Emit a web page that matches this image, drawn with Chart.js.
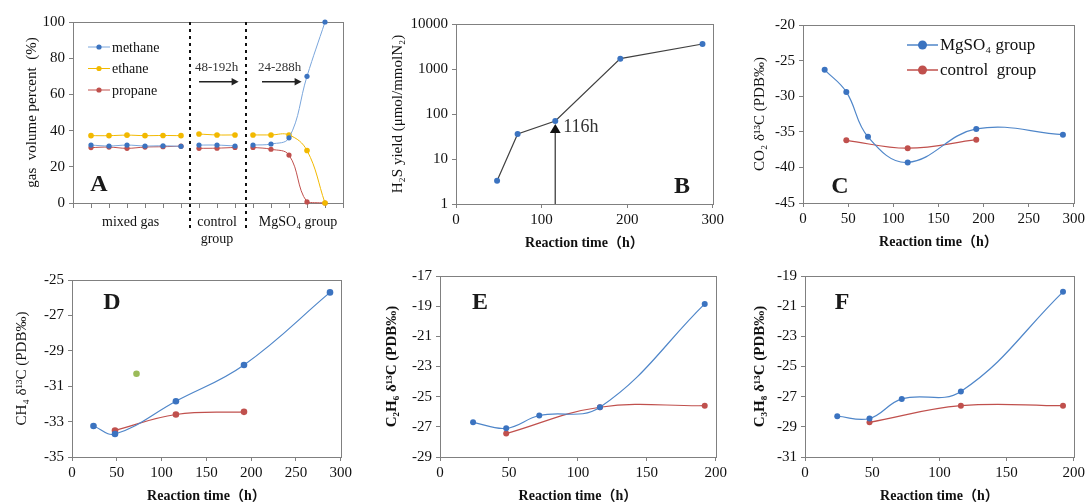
<!DOCTYPE html>
<html>
<head>
<meta charset="utf-8">
<script src="https://cdn.jsdelivr.net/npm/chart.js@4.4.1/dist/chart.umd.min.js"></script>
<style>
  html, body { margin: 0; padding: 0; background: #fff; overflow: hidden; }
  #wrap { position: relative; width: 1091px; height: 504px; }
  canvas { position: absolute; }
</style>
</head>
<body>
<div id="wrap">
  <canvas id="cA"></canvas>
  <canvas id="cB"></canvas>
  <canvas id="cC"></canvas>
  <canvas id="cD"></canvas>
  <canvas id="cE"></canvas>
  <canvas id="cF"></canvas>
</div>
<script>
// ---------- données ----------

// A : composition du gaz (%)
const aGroups = ["mixed gas", ["control", "group"], "MgSO₄ group"];
const aGroupX = [[1, 2, 3, 4, 5, 6], [7, 8, 9], [10, 11, 12, 13, 14]];
const aMethane = [[32.0, 31.5, 32.0, 31.5, 31.6, 31.3], [32.0, 32.0, 31.5], [32.0, 32.6, 36.0, 70.0, 100.0]];
const aEthane = [[37.2, 37.2, 37.5, 37.2, 37.3, 37.2], [38.1, 37.6, 37.6], [37.6, 37.6, 37.6, 29.0, 0.0]];
const aPropane = [[30.6, 30.9, 30.2, 30.9, 31.1, 31.4], [30.2, 30.3, 30.7], [30.7, 29.7, 26.5, 0.6, 0.0]];
const aYTicks = [0, 20, 40, 60, 80, 100];
const aLabelPos = [3.2, 8, 12.5];
const aDividers = [6.5, 9.6];
const aNotes = [
  { label: "48-192h", from: 7.0, to: 9.2 },
  { label: "24-288h", from: 10.5, to: 12.7 }
];

// B : rendement en H2S
const bTime = [48, 72, 116, 192, 288];
const bH2S = [3.3, 36, 70, 1700, 3600];
const bYTicks = [1, 10, 100, 1000, 10000];
const bMarkTime = 116;

// C : CO2 d13C
const cTimeMg = [24, 48, 72, 116, 192, 288];
const cMg = [-26.3, -29.4, -35.7, -39.3, -34.6, -35.4];
const cTimeCtl = [48, 116, 192];
const cCtl = [-36.2, -37.3, -36.1];

// D : CH4 d13C
const dTimeMg = [24, 48, 116, 192, 288];
const dMg = [-33.25, -33.7, -31.85, -29.8, -25.7];
const dTimeCtl = [48, 116, 192];
const dCtl = [-33.5, -32.6, -32.45];
const dTimeOdd = [72];
const dOdd = [-30.3];

// E : C2H6 d13C
const eTimeMg = [24, 48, 72, 116, 192];
const eMg = [-26.7, -27.1, -26.25, -25.7, -18.85];
const eTimeCtl = [48, 116, 192];
const eCtl = [-27.45, -25.7, -25.6];

// F : C3H8 d13C
const fTimeMg = [24, 48, 72, 116, 192];
const fMg = [-28.3, -28.45, -27.15, -26.65, -20.05];
const fTimeCtl = [48, 116, 192];
const fCtl = [-28.7, -27.6, -27.6];

// ---------- style ----------
const SERIF = '"Liberation Serif", "Times New Roman", "DejaVu Serif", "Noto Sans CJK SC", serif';
const AXIS = "#808080";
const BLUE = "#4f86c9";
const BLUE_PT = "#3b73c0";
const RED = "#c0504d";
const YELLOW = "#f2b900";
const GREEN = "#9bbb59";
const TICK_SIZE = 15;

Chart.defaults.font.family = SERIF;
Chart.defaults.color = "#111";

const pts = (xs, ys) => xs.map((x, i) => ({ x: x, y: ys[i] }));

// relie les groupes avec une coupure entre eux
function groupedPts(groupX, groupY) {
  const out = [];
  groupX.forEach((xs, g) => {
    if (g > 0) out.push({ x: xs[0] - 0.5, y: null });
    xs.forEach((x, i) => out.push({ x: x, y: groupY[g][i] }));
  });
  return out;
}

function serie(data, color, ptColor, extra) {
  return Object.assign({
    data: data,
    borderColor: color,
    backgroundColor: ptColor,
    pointBackgroundColor: ptColor,
    pointBorderWidth: 0,
    pointRadius: 3,
    borderWidth: 1.2,
    tension: 0.4,
    clip: false,
    spanGaps: false
  }, extra || {});
}

function xAxis(min, max, step, h) {
  return {
    type: "linear", min: min, max: max,
    ticks: { stepSize: step, font: { size: TICK_SIZE }, padding: 3, maxRotation: 0, autoSkip: false, color: "#111" },
    grid: { drawOnChartArea: false, tickLength: 4, color: AXIS },
    border: { color: AXIS },
    title: { display: true, text: "Reaction time（h）", font: { size: 14, weight: "bold" }, padding: 0 },
    afterFit: s => { s.height = h; }
  };
}

function yAxis(min, max, step, w, title, bold) {
  return {
    type: "linear", min: min, max: max,
    ticks: { stepSize: step, font: { size: TICK_SIZE }, padding: 4, autoSkip: false, color: "#111" },
    grid: { drawOnChartArea: false, tickLength: 4, color: AXIS },
    border: { color: AXIS },
    title: { display: true, text: title, font: { size: 15, weight: bold ? "bold" : "normal" }, padding: 0 },
    afterFit: s => { s.width = w; }
  };
}

// cadre gris autour de la zone de tracé
const framePlugin = {
  id: "frame",
  beforeDatasetsDraw(chart) {
    const a = chart.chartArea;
    const ctx = chart.ctx;
    ctx.save();
    ctx.strokeStyle = AXIS;
    ctx.lineWidth = 1;
    ctx.strokeRect(Math.round(a.left) + 0.5, Math.round(a.top) + 0.5, Math.round(a.right - a.left), Math.round(a.bottom - a.top));
    ctx.restore();
  }
};

function letterPlugin(text, dx, dy) {
  return {
    id: "letter" + text,
    afterDraw(chart) {
      const ctx = chart.ctx, a = chart.chartArea;
      ctx.save();
      ctx.font = "bold 24px " + SERIF;
      ctx.fillStyle = "#1a1a1a";
      ctx.textAlign = "center";
      ctx.textBaseline = "middle";
      ctx.fillText(text, a.left + dx, a.top + dy);
      ctx.restore();
    }
  };
}

function legendPlugin(items, opt) {
  return {
    id: "legendBox",
    afterDraw(chart) {
      const ctx = chart.ctx, a = chart.chartArea;
      ctx.save();
      ctx.font = opt.size + "px " + SERIF;
      ctx.textBaseline = "middle";
      items.forEach((it, i) => {
        const x = a.left + opt.dx, y = a.top + opt.dy + i * opt.gap;
        ctx.strokeStyle = it.color;
        ctx.lineWidth = opt.lw;
        ctx.beginPath();
        ctx.moveTo(x, y);
        ctx.lineTo(x + opt.len, y);
        ctx.stroke();
        ctx.fillStyle = it.point;
        ctx.beginPath();
        ctx.arc(x + opt.len / 2, y, opt.r, 0, Math.PI * 2);
        ctx.fill();
        ctx.fillStyle = "#111";
        ctx.fillText(it.label, x + opt.len + 2, y + 1);
      });
      ctx.restore();
    }
  };
}

function arrowHead(ctx, x, y, dir, size) {
  ctx.beginPath();
  if (dir === "right") {
    ctx.moveTo(x, y);
    ctx.lineTo(x - size, y - size * 0.55);
    ctx.lineTo(x - size, y + size * 0.55);
  } else {
    ctx.moveTo(x, y);
    ctx.lineTo(x - size * 0.6, y + size);
    ctx.lineTo(x + size * 0.6, y + size);
  }
  ctx.closePath();
  ctx.fill();
}

// annotations du panneau A : séparateurs pointillés et flèches
const aExtras = {
  id: "aExtras",
  afterDraw(chart) {
    const ctx = chart.ctx, a = chart.chartArea, x = chart.scales.x, y = chart.scales.y;
    ctx.save();
    ctx.strokeStyle = "#111";
    ctx.lineWidth = 2;
    ctx.setLineDash([3, 4]);
    aDividers.forEach(v => {
      const px = Math.round(x.getPixelForValue(v));
      ctx.beginPath();
      ctx.moveTo(px, a.top);
      ctx.lineTo(px, a.bottom + 26);
      ctx.stroke();
    });
    ctx.setLineDash([]);
    ctx.font = "13px " + SERIF;
    ctx.textBaseline = "middle";
    aNotes.forEach(n => {
      const x0 = x.getPixelForValue(n.from), x1 = x.getPixelForValue(n.to);
      const yl = y.getPixelForValue(67);
      ctx.fillStyle = "#333";
      ctx.fillText(n.label, x0 - 4, y.getPixelForValue(75));
      ctx.strokeStyle = "#222";
      ctx.lineWidth = 1.5;
      ctx.beginPath();
      ctx.moveTo(x0, yl);
      ctx.lineTo(x1 - 5, yl);
      ctx.stroke();
      ctx.fillStyle = "#222";
      arrowHead(ctx, x1, yl, "right", 7);
    });
    ctx.restore();
  }
};

// flèche du panneau B à 116 h
const bExtras = {
  id: "bExtras",
  afterDraw(chart) {
    const ctx = chart.ctx, a = chart.chartArea, x = chart.scales.x, y = chart.scales.y;
    const px = x.getPixelForValue(bMarkTime);
    const tip = y.getPixelForValue(60);
    ctx.save();
    ctx.strokeStyle = "#555";
    ctx.lineWidth = 1.5;
    ctx.beginPath();
    ctx.moveTo(px, a.bottom);
    ctx.lineTo(px, tip + 8);
    ctx.stroke();
    ctx.fillStyle = "#111";
    arrowHead(ctx, px, tip, "up", 9);
    ctx.font = "18px " + SERIF;
    ctx.fillStyle = "#333";
    ctx.textBaseline = "middle";
    ctx.fillText(bMarkTime + "h", px + 8, tip + 3);
    ctx.restore();
  }
};

function place(id, left, top, w, h) {
  const c = document.getElementById(id);
  c.width = w; c.height = h;
  c.style.left = left + "px"; c.style.top = top + "px";
  c.style.width = w + "px"; c.style.height = h + "px";
  return c;
}

const common = {
  responsive: false,
  animation: false,
  devicePixelRatio: 1,
  events: []
};

function opts(padTop, padRight, scales) {
  return Object.assign({}, common, {
    layout: { padding: { top: padTop, right: padRight, left: 0, bottom: 0 } },
    plugins: { legend: { display: false }, tooltip: { enabled: false } },
    scales: scales
  });
}

// ---------- A ----------
new Chart(place("cA", 23, 0, 330, 250), {
  type: "line",
  data: {
    datasets: [
      serie(groupedPts(aGroupX, aMethane), "#7aa6dc", BLUE_PT, { pointRadius: 2.6, borderWidth: 1 }),
      serie(groupedPts(aGroupX, aEthane), YELLOW, YELLOW, { pointRadius: 2.8, borderWidth: 1 }),
      serie(groupedPts(aGroupX, aPropane), RED, RED, { pointRadius: 2.6, borderWidth: 1 })
    ]
  },
  options: opts(22, 10, {
    x: {
      type: "linear", min: 0, max: 15, weight: 0,
      ticks: { stepSize: 1, callback: () => "", autoSkip: false },
      grid: { drawOnChartArea: false, tickLength: 5, color: AXIS },
      border: { color: AXIS },
      afterFit: s => { s.height = 6; }
    },
    xg: {
      type: "linear", position: "bottom", min: 0, max: 15, weight: 1,
      afterBuildTicks: s => { s.ticks = aLabelPos.map(v => ({ value: v })); },
      ticks: { callback: (v, i) => aGroups[i], font: { size: 14 }, padding: 5, autoSkip: false, maxRotation: 0, color: "#111" },
      grid: { display: false, drawTicks: false },
      border: { display: false },
      afterFit: s => { s.height = 41; }
    },
    y: Object.assign(yAxis(0, 100, 20, 50, "gas  volume percent  (%)", false), {
      afterBuildTicks: s => { s.ticks = aYTicks.map(v => ({ value: v })); }
    })
  }),
  plugins: [framePlugin, aExtras, letterPlugin("A", 26, 163),
    legendPlugin([
      { label: "methane", color: "#7aa6dc", point: BLUE_PT },
      { label: "ethane", color: YELLOW, point: YELLOW },
      { label: "propane", color: RED, point: RED }
    ], { dx: 15, dy: 25, gap: 21.5, len: 22, r: 2.6, lw: 1, size: 14 })]
});

// ---------- B ----------
new Chart(place("cB", 389, 0, 338, 252), {
  type: "line",
  data: {
    datasets: [serie(pts(bTime, bH2S), "#404040", BLUE_PT, { tension: 0, borderWidth: 1.2 })]
  },
  options: opts(24, 14, {
    x: xAxis(0, 300, 100, 48),
    y: Object.assign(yAxis(1, 10000, 1, 67, "H₂S yield (μmol/mmolN₂)", false), {
      type: "logarithmic",
      afterBuildTicks: s => { s.ticks = bYTicks.map(v => ({ value: v })); },
      ticks: { font: { size: TICK_SIZE }, padding: 4, autoSkip: false, color: "#111", callback: v => String(v) }
    })
  }),
  plugins: [framePlugin, bExtras, letterPlugin("B", 226, 163)]
});

// ---------- C ----------
new Chart(place("cC", 751, 0, 337, 251), {
  type: "line",
  data: {
    datasets: [
      serie(pts(cTimeMg, cMg), BLUE, BLUE_PT),
      serie(pts(cTimeCtl, cCtl), RED, RED)
    ]
  },
  options: opts(25, 14, {
    x: xAxis(0, 300, 50, 48),
    y: yAxis(-45, -20, 5, 52, "CO₂ δ¹³C (PDB‰)", false)
  }),
  plugins: [framePlugin, letterPlugin("C", 37, 162),
    legendPlugin([
      { label: "MgSO₄ group", color: BLUE, point: BLUE_PT },
      { label: "control  group", color: RED, point: RED }
    ], { dx: 104, dy: 20, gap: 25, len: 31, r: 4.5, lw: 1.5, size: 17 })]
});

// ---------- D ----------
new Chart(place("cD", 13, 258, 342, 247), {
  type: "line",
  data: {
    datasets: [
      serie(pts(dTimeMg, dMg), BLUE, BLUE_PT, { pointRadius: 3.3 }),
      serie(pts(dTimeCtl, dCtl), RED, RED, { pointRadius: 3.3 }),
      serie(pts(dTimeOdd, dOdd), GREEN, GREEN, { showLine: false, pointRadius: 3.3 })
    ]
  },
  options: opts(22, 14, {
    x: xAxis(0, 300, 50, 48),
    y: yAxis(-35, -25, 2, 59, "CH₄ δ¹³C (PDB‰)", false)
  }),
  plugins: [framePlugin, letterPlugin("D", 40, 23)]
});

// ---------- E ----------
new Chart(place("cE", 383, 254, 347, 251), {
  type: "line",
  data: {
    datasets: [
      serie(pts(eTimeMg, eMg), BLUE, BLUE_PT),
      serie(pts(eTimeCtl, eCtl), RED, RED)
    ]
  },
  options: opts(22, 14, {
    x: xAxis(0, 200, 50, 48),
    y: yAxis(-29, -17, 2, 57, "C₂H₆ δ¹³C (PDB‰)", true)
  }),
  plugins: [framePlugin, letterPlugin("E", 40, 27)]
});

// ---------- F ----------
new Chart(place("cF", 751, 254, 337, 251), {
  type: "line",
  data: {
    datasets: [
      serie(pts(fTimeMg, fMg), BLUE, BLUE_PT),
      serie(pts(fTimeCtl, fCtl), RED, RED)
    ]
  },
  options: opts(22, 14, {
    x: xAxis(0, 200, 50, 48),
    y: yAxis(-31, -19, 2, 54, "C₃H₈ δ¹³C (PDB‰)", true)
  }),
  plugins: [framePlugin, letterPlugin("F", 37, 27)]
});
</script>
</body>
</html>
